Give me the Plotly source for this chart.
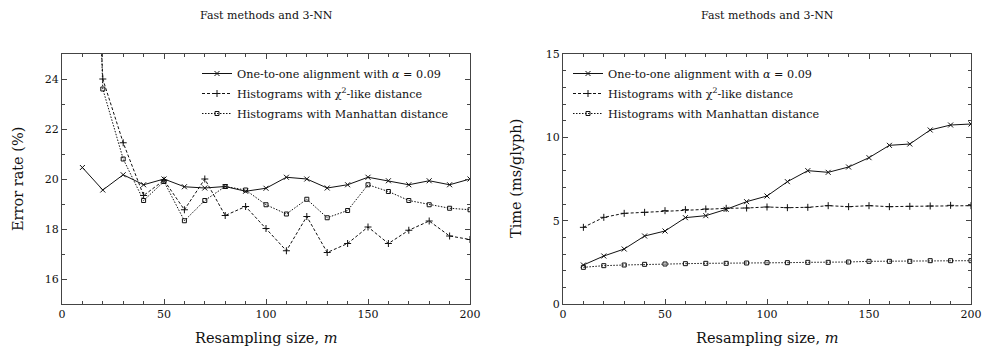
import plotly.graph_objects as go

m = [10, 20, 30, 40, 50, 60, 70, 80, 90, 100, 110, 120, 130, 140, 150, 160, 170, 180, 190, 200]

err_align = [20.46, 19.56, 20.17, 19.77, 20.0, 19.69, 19.64, 19.7, 19.51, 19.63,
             20.07, 20.0, 19.64, 19.77, 20.07, 19.93, 19.77, 19.93, 19.77, 20.0]
err_chi2 = [44.0, 24.0, 21.45, 19.34, 19.95, 18.77, 20.0, 18.54, 18.9, 18.02,
            17.13, 18.5, 17.06, 17.42, 18.08, 17.42, 17.95, 18.32, 17.72, 17.58]
err_manh = [48.0, 23.6, 20.8, 19.14, 19.9, 18.33, 19.14, 19.7, 19.56, 18.97,
            18.6, 19.19, 18.45, 18.74, 19.77, 19.5, 19.14, 18.97, 18.83, 18.77]

time_align = [2.34, 2.88, 3.3, 4.08, 4.38, 5.18, 5.3, 5.68, 6.14, 6.48,
              7.34, 8.0, 7.9, 8.22, 8.78, 9.52, 9.6, 10.44, 10.74, 10.8]
time_chi2 = [4.6, 5.2, 5.44, 5.5, 5.6, 5.66, 5.7, 5.74, 5.76, 5.82,
             5.78, 5.8, 5.9, 5.84, 5.9, 5.84, 5.86, 5.88, 5.92, 5.9]
time_manh = [2.2, 2.3, 2.34, 2.38, 2.4, 2.42, 2.44, 2.44, 2.46, 2.48,
             2.48, 2.5, 2.5, 2.52, 2.56, 2.56, 2.56, 2.6, 2.6, 2.6]

names = ["One-to-one alignment with <i>α</i> = 0.09",
         "Histograms with χ<sup>2</sup>-like distance",
         "Histograms with Manhattan distance"]
title_text = "Fast methods and 3-NN"
xtitle = "Resampling size, <i>m</i>"
ytitle_left = "Error rate (%)"
ytitle_right = "Time (ms/glyph)"

FONT = "DejaVu Serif"
INK = "#111111"
AX = "#444444"

styles = [
    dict(dash="solid", symbol="x-thin-open", size=5),
    dict(dash="3px,2px", symbol="cross-thin-open", size=5),
    dict(dash="1.5px,1.5px", symbol="square-open", size=4),
]

fig = go.Figure()
left_sets = [err_align, err_chi2, err_manh]
right_sets = [time_align, time_chi2, time_manh]
for i, (ys, st) in enumerate(zip(left_sets, styles)):
    fig.add_trace(go.Scatter(
        x=m, y=ys, name=names[i], mode="lines+markers", legendgroup="a%d" % i,
        line=dict(color=INK, width=1, dash=st["dash"]),
        marker=dict(symbol=st["symbol"], size=st["size"], color=INK,
                    line=dict(color=INK, width=1)),
        xaxis="x", yaxis="y", legend="legend"))
for i, (ys, st) in enumerate(zip(right_sets, styles)):
    fig.add_trace(go.Scatter(
        x=m, y=ys, name=names[i], mode="lines+markers", legendgroup="b%d" % i,
        line=dict(color=INK, width=1, dash=st["dash"]),
        marker=dict(symbol=st["symbol"], size=st["size"], color=INK,
                    line=dict(color=INK, width=1)),
        xaxis="x2", yaxis="y2", legend="legend2"))

# body margin is removed by the post script, so page pixels == figure pixels
W, H = 982, 350
PL, PR, PT, PB = 62, 971, 54, 304          # plot area in page pixels
L, R, T, B = PL, W - PR, PT, H - PB
pw = PR - PL
ph = PB - PT
d1 = [0, (470 - PL) / pw]
d2 = [(563 - PL) / pw, 1]


def px(xp):
    return (xp - PL) / pw


def py(yp):
    return (PB - yp) / ph


axis_common = dict(
    showgrid=False, zeroline=False, showline=True, linecolor=AX,
    linewidth=1, mirror="ticks", ticks="inside", ticklen=5, tickcolor=AX,
    tickfont=dict(family=FONT, size=11, color=INK), automargin=False,
)
minor = dict(ticks="inside", ticklen=3, tickcolor=AX)
LEG_FONT = dict(family=FONT, size=11.2, color=INK)

fig.update_layout(
    width=W, height=H,
    margin=dict(l=L, r=R, t=T, b=B, autoexpand=False),
    paper_bgcolor="white", plot_bgcolor="white",
    font=dict(family=FONT, color=INK),
    xaxis=dict(domain=d1, range=[0, 200], dtick=50, minor=dict(dtick=10, **minor),
               **axis_common),
    yaxis=dict(range=[15, 25], tickvals=[16, 18, 20, 22, 24],
               minor=dict(dtick=1, **minor), **axis_common),
    xaxis2=dict(domain=d2, range=[0, 200], dtick=50, anchor="y2",
                minor=dict(dtick=10, **minor), **axis_common),
    yaxis2=dict(range=[0, 15], dtick=5, anchor="x2",
                minor=dict(dtick=1, **minor), **axis_common),
    legend=dict(x=px(197), y=py(59), xanchor="left", yanchor="top",
                bgcolor="rgba(0,0,0,0)", font=LEG_FONT, tracegroupgap=1),
    legend2=dict(x=px(568), y=py(59), xanchor="left", yanchor="top",
                 bgcolor="rgba(0,0,0,0)", font=LEG_FONT, tracegroupgap=1),
    showlegend=True,
)

ann = []
for dom in (d1, d2):
    ann.append(dict(text=title_text, x=(dom[0] + dom[1]) / 2, y=py(15),
                    xref="paper", yref="paper", xanchor="center", yanchor="middle",
                    showarrow=False, font=dict(family=FONT, size=11, color=INK)))
    ann.append(dict(text=xtitle, x=(dom[0] + dom[1]) / 2, y=py(338),
                    xref="paper", yref="paper", xanchor="center", yanchor="middle",
                    showarrow=False, font=dict(family=FONT, size=14.5, color=INK)))
ann.append(dict(text=ytitle_left, x=px(18), y=0.5, xref="paper", yref="paper",
                xanchor="center", yanchor="middle",
                textangle=-90, showarrow=False, font=dict(family=FONT, size=14.5, color=INK)))
ann.append(dict(text=ytitle_right, x=px(516), y=0.5, xref="paper", yref="paper",
                xanchor="center", yanchor="middle",
                textangle=-90, showarrow=False, font=dict(family=FONT, size=14.5, color=INK)))
fig.update_layout(annotations=ann)

fig.write_html(
    "out.html",
    config={"displayModeBar": False},
    post_script="document.body.style.margin='0';document.body.style.overflow='hidden';",
)
